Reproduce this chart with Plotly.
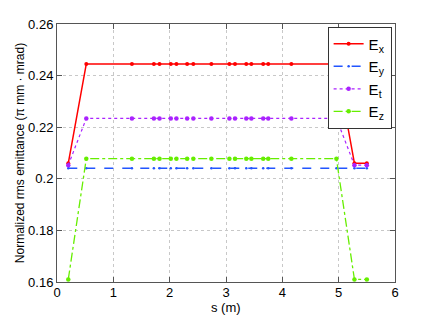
import plotly.graph_objects as go

s = [0.2, 0.52, 1.33, 1.72, 1.82, 2.02, 2.12, 2.31, 2.42, 2.74, 3.06, 3.16,
     3.36, 3.45, 3.66, 3.75, 4.16, 4.96, 5.28, 5.5]
ex = [0.206] + [0.2445] * 17 + [0.206, 0.206]
ey = [0.2041] * 20
et = [0.2053] + [0.2234] * 17 + [0.2053, 0.2053]
ez = [0.161] + [0.2078] * 17 + [0.161, 0.161]

series = [
    ("E<sub>x</sub>", ex, "#ff0000", "solid", 1.5, 4),
    ("E<sub>y</sub>", ey, "#2255ff", "dash", 1.5, 2.5),
    ("E<sub>t</sub>", et, "#aa22ff", "dot", 1.2, 4.5),
    ("E<sub>z</sub>", ez, "#66ee00", "dashdot", 1.3, 4.5),
]

fig = go.Figure()
for name, y, c, dash, lw, ms in series:
    fig.add_trace(go.Scatter(x=s, y=y, name=name, mode="lines+markers",
                             line=dict(color=c, dash=dash, width=lw),
                             marker=dict(color=c, size=ms)))

axis_common = dict(showline=True, linecolor="#555", linewidth=1, mirror="ticks",
                   ticks="inside", ticklen=5, tickcolor="#555",
                   showgrid=True, gridcolor="#c8c8c8", griddash="dot", gridwidth=1,
                   zeroline=False, tickfont=dict(size=13, color="black"))

fig.update_layout(
    width=436, height=318,
    margin=dict(l=57, r=41, t=24, b=36),
    paper_bgcolor="white", plot_bgcolor="white",
    font=dict(family="Liberation Sans, Arial, sans-serif", color="black"),
    xaxis=dict(range=[0, 6], tickvals=[0, 1, 2, 3, 4, 5, 6], ticklabelstandoff=-2,
               **axis_common),
    yaxis=dict(range=[0.16, 0.26], tickvals=[0.16, 0.18, 0.2, 0.22, 0.24, 0.26],
               ticktext=["0.16", "0.18", "0.2", "0.22", "0.24", "0.26"],
               title=dict(text="Normalized rms emittance (π mm · mrad)", font=dict(size=12), standoff=0),
               **axis_common),
    legend=dict(x=0.99, y=0.99, xanchor="right", yanchor="top",
                bordercolor="#333", borderwidth=1, bgcolor="white",
                font=dict(size=15), itemwidth=30, tracegroupgap=0),
    showlegend=True,
    annotations=[dict(text="s (m)", xref="paper", yref="paper", x=0.5, y=0,
                      xanchor="center", yanchor="middle", yshift=-25,
                      showarrow=False, font=dict(size=13))],
)

fig.write_html("out.html", config={"displayModeBar": False},
               post_script="document.body.style.margin='0';document.body.style.overflow='hidden';")
